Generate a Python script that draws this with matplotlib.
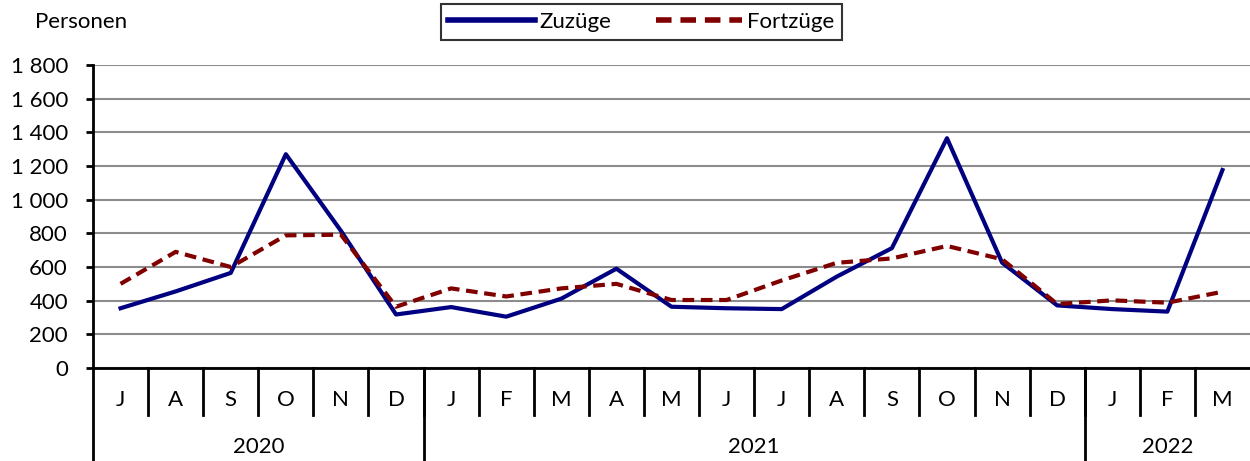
import numpy as np
import matplotlib
matplotlib.use('Agg')
import matplotlib.pyplot as plt
from matplotlib.ticker import FuncFormatter

plt.rcParams['font.family'] = ['Lato', 'DejaVu Sans']

# Monate Juli 2020 bis März 2022
monate = ['J', 'A', 'S', 'O', 'N', 'D', 'J', 'F', 'M', 'A', 'M', 'J',
          'J', 'A', 'S', 'O', 'N', 'D', 'J', 'F', 'M']
jahre = ['2020', '2021', '2022']
monate_pro_jahr = [6, 12, 3]

zuzuege = [355, 455, 565, 1270, 815, 318, 362, 305, 412, 590, 364, 355,
           350, 543, 712, 1365, 626, 372, 350, 335, 1176]
fortzuege = [500, 690, 600, 788, 792, 364, 473, 425, 473, 500, 404, 404,
             520, 625, 651, 725, 646, 380, 402, 388, 453]

fs = 16

fig = plt.figure(figsize=(12.5, 4.61), dpi=100)
ax = fig.add_axes([0.0744, 0.2017, 0.9256, 0.6573])

x = np.arange(len(monate))
ax.plot(x, zuzuege, color='#000080', lw=3, label='Zuzüge', zorder=3)
ax.plot(x, fortzuege, color='#800000', lw=3, ls=(0, (2.8, 1.6)),
        label='Fortzüge', zorder=3)

ax.set_xlim(-0.5, len(monate) - 0.5)
ax.set_ylim(0, 1800)
ax.set_yticks(range(0, 1801, 200))
ax.yaxis.set_major_formatter(FuncFormatter(lambda v, p: format(int(v), ',').replace(',', ' ')))
ax.tick_params(axis='y', length=5, width=2, pad=13, labelsize=fs)
ax.set_xticks([])
ax.grid(axis='y', color='#8c8c8c', lw=1.5)
ax.set_axisbelow(True)

for s in ['top', 'right']:
    ax.spines[s].set_visible(False)
ax.spines['left'].set_linewidth(2)
ax.spines['bottom'].set_linewidth(2)

trans = ax.get_xaxis_transform()
# Monatsbeschriftung und Trennlinien
for i, m in enumerate(monate):
    ax.text(i, -0.106, m, transform=trans, ha='center', va='center', fontsize=fs)
    if i > 0:
        ax.plot([i - 0.5, i - 0.5], [0, -0.155], transform=trans, color='black',
                lw=2, clip_on=False)

# Jahresbeschriftung
start = 0
for j, n in zip(jahre, monate_pro_jahr):
    ax.plot([start - 0.5, start - 0.5], [0, -0.31], transform=trans, color='black',
            lw=2, clip_on=False)
    ax.text(start + (n - 1) / 2, -0.262, j, transform=trans, ha='center',
            va='center', fontsize=fs)
    start += n

fig.text(0.028, 0.952, 'Personen', ha='left', va='center', fontsize=fs)

leg = fig.legend(loc='center', bbox_to_anchor=(0.513, 0.952), ncol=2,
                 fontsize=fs, handlelength=3.9, frameon=True, fancybox=False,
                 borderpad=0.35, columnspacing=2.0, handletextpad=0.2,
                 borderaxespad=0)
leg.get_frame().set_edgecolor('black')
leg.get_frame().set_linewidth(1.5)
for h in leg.get_lines():
    h.set_linewidth(4)

fig.savefig('out.png', dpi=100)
